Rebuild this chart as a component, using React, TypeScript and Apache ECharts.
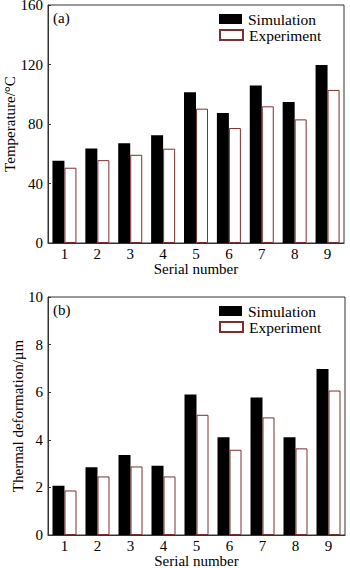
import React, { useEffect, useRef } from "react";
import * as echarts from "echarts";

const categories = ["1", "2", "3", "4", "5", "6", "7", "8", "9"];
const tempSimulation = [55.3, 63.6, 67.0, 72.4, 101.3, 87.4, 105.8, 94.8, 119.6];
const tempExperiment = [50.6, 55.7, 59.3, 63.4, 90.3, 77.3, 91.9, 83.1, 102.9];
const deformSimulation = [2.07, 2.85, 3.36, 2.91, 5.9, 4.11, 5.78, 4.11, 6.98];
const deformExperiment = [1.87, 2.46, 2.88, 2.46, 5.05, 3.58, 4.94, 3.64, 6.07];
const seriesNames = ["Simulation", "Experiment"];

const FONT = '"Liberation Serif", "Times New Roman", serif';
const EXP_BORDER = "#7a3030";

export default function App() {
  const ref = useRef<HTMLDivElement>(null);
  useEffect(() => {
    if (!ref.current) return;
    const chart = echarts.init(ref.current, undefined, { renderer: "svg" });
    const axisText = { color: "#000", fontSize: 15, fontFamily: FONT };
    const yAxisCommon = {
      type: "value" as const,
      axisLine: { show: true, lineStyle: { color: "#333", width: 1 } },
      axisTick: { show: true, inside: true, length: 3, lineStyle: { color: "#333" } },
      splitLine: { show: false },
      axisLabel: { ...axisText, margin: 5, lineHeight: 10 },
      nameLocation: "middle" as const,
      nameMoveOverlap: false,
      nameTextStyle: axisText,
    };
    const xAxisCommon = {
      type: "category" as const,
      data: categories,
      axisLine: { show: true, lineStyle: { color: "#333", width: 1 } },
      axisTick: { show: false },
      axisLabel: { ...axisText, margin: 3 },
      name: "Serial number",
      nameLocation: "middle" as const,
      nameMoveOverlap: false,
      nameTextStyle: axisText,
    };
    const simStyle = { color: "#000" };
    const expStyle = { color: "#fff", borderColor: EXP_BORDER, borderWidth: 1 };
    const legendItem = (name: string, top: number) => ({
      orient: "vertical" as const,
      left: 219,
      top,
      padding: 0,
      itemWidth: 23,
      itemHeight: 10,
      itemGap: 0,
      icon: "rect",
      textStyle: { color: "#000", fontSize: 15.5, fontFamily: FONT, lineHeight: 14, padding: [0, 0, 0, 1] },
      data: [name],
    });
    chart.setOption({
      animation: false,
      backgroundColor: "#fff",
      grid: [
        { left: 48, top: 5, width: 296, height: 238, show: true, borderColor: "#333", borderWidth: 1, backgroundColor: "transparent", outerBoundsMode: "none", containLabel: false },
        { left: 48, top: 297, width: 297, height: 238, show: true, borderColor: "#333", borderWidth: 1, backgroundColor: "transparent", outerBoundsMode: "none", containLabel: false },
      ],
      legend: [
        legendItem(seriesNames[0], 11),
        legendItem(seriesNames[1], 27),
        legendItem(seriesNames[0], 303),
        legendItem(seriesNames[1], 319),
      ],
      xAxis: [
        { ...xAxisCommon, gridIndex: 0, nameGap: 18 },
        { ...xAxisCommon, gridIndex: 1, nameGap: 18 },
      ],
      yAxis: [
        { ...yAxisCommon, gridIndex: 0, min: 0, max: 160, interval: 40, name: "Temperature/°C", nameGap: 31 },
        { ...yAxisCommon, gridIndex: 1, min: 0, max: 10, interval: 2, name: "Thermal deformation/µm", nameGap: 23 },
      ],
      graphic: [
        { type: "text", left: 53, top: 10, style: { text: "(a)", fontSize: 15, fontFamily: FONT, fill: "#000" } },
        { type: "text", left: 53, top: 302, style: { text: "(b)", fontSize: 15, fontFamily: FONT, fill: "#000" } },
      ],
      series: [
        { name: seriesNames[0], type: "bar", xAxisIndex: 0, yAxisIndex: 0, data: tempSimulation, barWidth: 12, barGap: "0%", itemStyle: simStyle },
        { name: seriesNames[1], type: "bar", xAxisIndex: 0, yAxisIndex: 0, data: tempExperiment, barWidth: 12, barGap: "0%", itemStyle: expStyle },
        { name: seriesNames[0], type: "bar", xAxisIndex: 1, yAxisIndex: 1, data: deformSimulation, barWidth: 12, barGap: "0%", itemStyle: simStyle },
        { name: seriesNames[1], type: "bar", xAxisIndex: 1, yAxisIndex: 1, data: deformExperiment, barWidth: 12, barGap: "0%", itemStyle: expStyle },
      ],
    });
    return () => chart.dispose();
  }, []);
  return <div ref={ref} style={{ position: "fixed", left: 0, top: 0, width: 350, height: 568 }} />;
}
